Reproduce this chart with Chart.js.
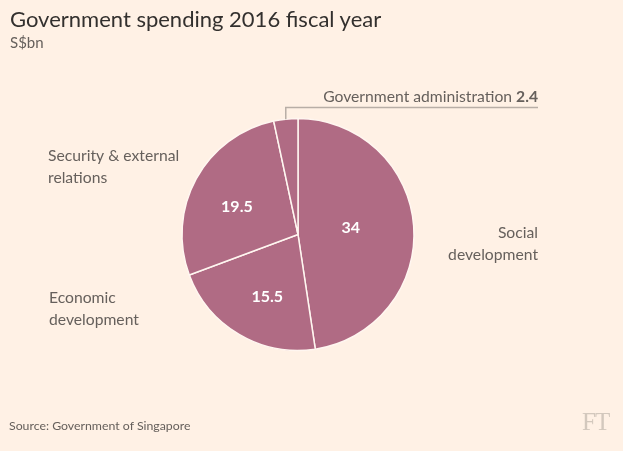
<!DOCTYPE html>
<html>
<head>
<meta charset="utf-8">
<script src="https://cdn.jsdelivr.net/npm/chart.js@4"></script>
<style>
  html, body { margin: 0; padding: 0; background: #fff1e5; }
  #wrap { position: relative; width: 623px; height: 451px; background: #fff1e5; overflow: hidden; }
  #c { position: absolute; left: 0; top: 0; }
  .t { position: absolute; white-space: nowrap; font-family: Lato, "Noto Sans", sans-serif; }
  #title { left: 10px; top: 5px; font-size: 22px; color: #33302e; }
  #sub { left: 10px; top: 33px; font-size: 15px; color: #66605c; }
  #src { left: 9px; top: 418px; font-size: 12.3px; color: #66605c; }
  #ft { left: 582px; top: 408px; font-size: 25px; color: #d3c8bd; font-family: "Liberation Serif", "DejaVu Serif", serif; letter-spacing: -1px; }
</style>
</head>
<body>
<div id="wrap">
  <canvas id="c" width="623" height="451"></canvas>
  <div class="t" id="title">Government spending 2016 fiscal year</div>
  <div class="t" id="sub">S$bn</div>
  <div class="t" id="src">Source: Government of Singapore</div>
  <div class="t" id="ft">FT</div>
</div>
<script>
const categories = ["Social development", "Economic development", "Security & external relations", "Government administration"];
const values = [34, 15.5, 19.5, 2.4];
const valueLabels = ["34", "15.5", "19.5", "2.4"];
const outerLabelLines = [["Social", "development"], ["Economic", "development"], ["Security & external", "relations"], ["Government administration"]];

const FONT = 'Lato, "Noto Sans", sans-serif';
const GREY = '#66605c';

const labelPlugin = {
  id: 'pieLabels',
  afterDatasetsDraw(chart) {
    const ctx = chart.ctx;
    const meta = chart.getDatasetMeta(0);
    const arcs = meta.data;
    const cx = arcs[0].x, cy = arcs[0].y, r = arcs[0].outerRadius;
    const mid = a => (a.startAngle + a.endAngle) / 2;
    ctx.save();
    // inner value labels (not for the tiny slice)
    const frac = [0.46, 0.595, 0.58];
    const rot = -4 * Math.PI / 180;
    ctx.fillStyle = '#ffffff';
    ctx.font = 'bold 16px ' + FONT;
    ctx.textAlign = 'center';
    ctx.textBaseline = 'alphabetic';
    for (let i = 0; i < 3; i++) {
      const a = mid(arcs[i]) + rot;
      ctx.fillText(valueLabels[i], cx + Math.cos(a) * r * frac[i], cy + Math.sin(a) * r * frac[i] + 5.7);
    }
    // outer labels
    ctx.fillStyle = GREY;
    ctx.font = '15.7px ' + FONT;
    const lh = 22;
    // Social development: right side
    {
      const x = cx + r + 124, y = cy + 3;
      ctx.textAlign = 'right';
      outerLabelLines[0].forEach((s, k) => ctx.fillText(s, x, y + k * lh));
    }
    // Economic development: left-bottom
    {
      const x = cx - r - 133, y = cy + 68;
      ctx.textAlign = 'left';
      outerLabelLines[1].forEach((s, k) => ctx.fillText(s, x, y + k * lh));
    }
    // Security & external relations: left-top
    {
      const x = cx - r - 134, y = cy - 74;
      ctx.textAlign = 'left';
      outerLabelLines[2].forEach((s, k) => ctx.fillText(s, x, y + k * lh));
    }
    // Government administration with leader line
    {
      const a = mid(arcs[3]);
      const px = cx + Math.cos(a) * r, py = cy + Math.sin(a) * r;
      const ly = cy - r - 11;
      const rx = cx + 240;
      ctx.strokeStyle = '#b8aea6';
      ctx.lineWidth = 1.5;
      ctx.beginPath();
      ctx.moveTo(px, py);
      ctx.lineTo(px, ly);
      ctx.lineTo(rx, ly);
      ctx.stroke();
      ctx.textAlign = 'right';
      ctx.font = 'bold 15.7px ' + FONT;
      const bold = valueLabels[3];
      const bw = ctx.measureText(bold).width;
      ctx.fillText(bold, rx, ly - 6);
      ctx.font = '15.7px ' + FONT;
      ctx.fillText(outerLabelLines[3][0] + ' ', rx - bw, ly - 6);
    }
    ctx.restore();
  }
};

new Chart(document.getElementById('c'), {
  type: 'pie',
  data: {
    labels: categories,
    datasets: [{
      data: values,
      backgroundColor: '#b06b84',
      borderColor: '#fff6f0',
      borderWidth: 1.5,
      hoverOffset: 0
    }]
  },
  options: {
    responsive: false,
    animation: false,
    radius: 116,
    layout: { padding: { left: 0, right: 27, top: 18, bottom: 0 } },
    plugins: { legend: { display: false }, tooltip: { enabled: false }, title: { display: false } },
    events: []
  },
  plugins: [labelPlugin]
});
</script>
</body>
</html>
